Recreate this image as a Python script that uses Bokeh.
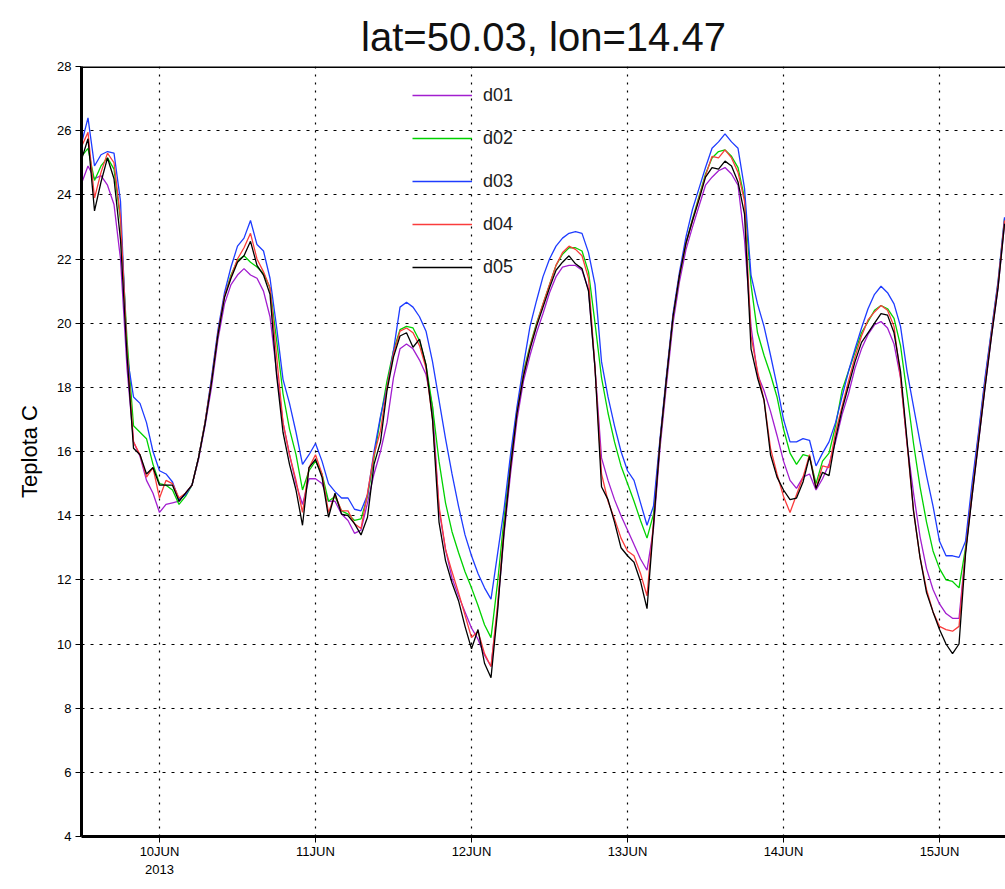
from bokeh.plotting import figure
from bokeh.models import FixedTicker, Legend, LegendItem, Span, Range1d
from bokeh.embed import file_html
from bokeh.resources import INLINE

# hours since 9 JUN 2013 12:00
hours = list(range(143))

d01 = [24.35, 24.9, 24.5, 24.6, 24.3, 23.7, 22.0, 18.6, 16.3, 15.85, 15.1, 14.7,
       14.1, 14.35, 14.4, 14.45, 14.7, 14.95, 15.75, 16.8, 18.0, 19.5, 20.6, 21.2,
       21.5, 21.7, 21.5, 21.4, 21.0, 20.2, 18.5, 16.9, 15.9, 15.0, 14.35, 15.15,
       15.15, 15.0, 14.45, 14.45, 14.05, 13.85, 13.45, 13.55, 14.4, 15.3, 16.0, 16.9,
       18.3, 19.2, 19.35, 19.2, 18.85, 18.4, 17.4, 14.2, 12.95, 12.05, 11.5, 11.0,
       10.5, 10.15, 9.65, 9.3, 11.1, 13.4, 15.3, 17.0, 18.2, 19.0, 19.7, 20.3,
       20.95, 21.45, 21.75, 21.8, 21.8, 21.65, 21.05, 18.6, 15.8, 15.1, 14.5, 14.0,
       13.55, 13.1, 12.65, 12.3, 13.6, 16.1, 18.1, 20.0, 21.3, 22.3, 23.0, 23.65,
       24.3, 24.55, 24.75, 24.85, 24.65, 24.3, 22.6, 19.9, 18.4, 17.9, 17.25, 16.5,
       15.7, 15.1, 14.85, 15.2, 15.3, 14.8, 15.15, 15.6, 16.3, 17.15, 17.8, 18.6,
       19.2, 19.65, 19.95, 20.05, 19.85, 19.35, 18.3, 16.25, 14.7, 13.35, 12.35, 11.7,
       11.25, 10.95, 10.8, 10.8, 12.9, 14.6, 16.3, 18.0, 19.6, 21.1, 23.1]

d02 = [25.2, 25.45, 24.45, 24.9, 25.15, 24.8, 23.2, 19.5, 16.8, 16.6, 16.4, 15.6,
       15.0, 14.95, 14.8, 14.35, 14.6, 14.95, 15.8, 16.9, 18.2, 19.7, 20.85, 21.5,
       21.95, 22.1, 21.9, 21.75, 21.55, 21.1, 19.5, 17.8, 16.7, 15.9, 14.8, 15.4,
       15.7, 15.3, 14.45, 14.6, 14.15, 14.05, 13.85, 13.9, 14.6, 15.8, 17.05, 18.2,
       19.15, 19.8, 19.9, 19.85, 19.45, 18.7, 17.4, 15.7, 14.4, 13.5, 12.85, 12.25,
       11.75, 11.2, 10.6, 10.2, 11.9, 13.9, 15.7, 17.3, 18.5, 19.3, 20.0, 20.6,
       21.2, 21.8, 22.15, 22.35, 22.35, 22.25, 21.6, 20.0, 18.3, 17.2, 16.3, 15.55,
       15.0, 14.45, 13.85, 13.3, 14.05, 16.3, 18.3, 20.2, 21.5, 22.5, 23.25, 23.95,
       24.65, 25.15, 25.35, 25.4, 25.2, 24.85, 23.9, 21.2, 19.7, 19.0, 18.4, 17.7,
       16.7, 15.95, 15.6, 15.9, 15.85, 15.0, 15.7, 15.95, 16.8, 17.9, 18.5, 19.1,
       19.7, 20.05, 20.4, 20.55, 20.45, 20.15, 19.3, 17.8, 16.25, 14.9, 13.8, 12.9,
       12.35, 12.0, 11.95, 11.75, 13.0, 14.8, 16.5, 18.2, 19.75, 21.25, 23.25]

d03 = [25.6, 26.4, 24.9, 25.25, 25.35, 25.3, 23.8, 19.0, 17.7, 17.5, 16.9, 16.0,
       15.4, 15.3, 15.05, 14.5, 14.65, 14.95, 15.8, 16.9, 18.3, 19.8, 20.95, 21.75,
       22.4, 22.65, 23.2, 22.45, 22.25, 21.4, 19.9, 18.25, 17.5, 16.6, 15.6, 15.9,
       16.25, 15.7, 15.0, 14.75, 14.55, 14.55, 14.2, 14.15, 14.65, 16.0, 17.1, 18.0,
       19.15, 20.5, 20.65, 20.5, 20.2, 19.75, 18.8, 17.6, 16.4, 15.3, 14.3, 13.4,
       12.75, 12.2, 11.75, 11.4, 12.8, 14.2, 15.9, 17.4, 18.7, 19.9, 20.7, 21.45,
       22.0, 22.4, 22.65, 22.8, 22.85, 22.8, 22.2, 21.2, 18.8, 17.7, 16.8, 16.0,
       15.4, 15.1, 14.4, 13.7, 14.3, 16.4, 18.4, 20.3, 21.6, 22.7, 23.55, 24.2,
       24.85, 25.45, 25.65, 25.9, 25.65, 25.45, 24.2, 21.5, 20.6, 19.9, 19.0, 18.05,
       17.0, 16.3, 16.3, 16.4, 16.35, 15.55, 15.95, 16.3, 16.9, 17.7, 18.5, 19.2,
       19.85, 20.45, 20.9, 21.15, 20.95, 20.6, 19.9, 18.5, 17.4, 16.3, 15.25, 14.3,
       13.2, 12.75, 12.75, 12.7, 13.2, 15.0, 16.6, 18.3, 19.8, 21.3, 23.3]

d04 = [25.5, 25.95, 23.9, 24.7, 25.3, 25.0, 23.3, 19.2, 16.3, 15.9, 15.2, 15.5,
       14.55, 15.1, 15.0, 14.55, 14.7, 14.95, 15.8, 16.9, 18.2, 19.7, 20.85, 21.45,
       22.0, 22.35, 22.8, 22.0, 21.6, 21.1, 19.0, 16.9, 15.9, 15.1, 14.1, 15.5,
       15.9, 15.3, 14.1, 14.65, 14.15, 14.15, 13.75, 13.6, 14.7, 15.9, 16.65, 18.0,
       19.05, 19.75, 19.85, 19.7, 19.3, 18.6, 17.0, 14.3, 12.95, 12.25, 11.6, 10.9,
       10.2, 10.4, 9.7, 9.3, 11.2, 13.6, 15.5, 17.2, 18.4, 19.25, 19.95, 20.6,
       21.2, 21.8, 22.2, 22.4, 22.3, 22.1, 21.4, 18.6, 15.3, 14.45, 13.9, 13.3,
       12.9, 12.75, 12.2, 11.5, 13.8, 16.3, 18.3, 20.2, 21.5, 22.5, 23.2, 23.9,
       24.6, 25.2, 25.15, 25.4, 25.15, 24.7, 23.8, 19.6, 18.5, 17.6, 16.1, 15.3,
       14.6, 14.1, 14.65, 15.2, 15.9, 14.85, 15.55, 15.5, 16.6, 17.4, 18.2, 18.95,
       19.6, 20.1, 20.35, 20.55, 20.4, 19.9, 18.3, 16.25, 14.15, 12.7, 11.7, 11.0,
       10.55, 10.45, 10.4, 10.55, 12.9, 14.7, 16.4, 18.1, 19.7, 21.2, 23.2]

d05 = [25.1, 25.75, 23.5, 24.4, 25.15, 24.5, 22.6, 19.0, 16.1, 15.9, 15.3, 15.5,
       14.95, 14.95, 14.95, 14.45, 14.7, 14.95, 15.8, 16.85, 18.15, 19.65, 20.8, 21.4,
       21.9, 22.1, 22.55, 21.8, 21.5, 20.9, 18.4, 16.6, 15.6, 14.8, 13.7, 15.5,
       15.75, 15.2, 13.95, 14.7, 14.05, 14.0, 13.75, 13.4, 13.95, 15.6, 16.3, 17.9,
       18.95, 19.6, 19.7, 19.25, 19.5, 18.7, 17.0, 13.8, 12.6, 11.9, 11.35, 10.55,
       9.85, 10.45, 9.4, 8.95, 11.0, 13.5, 15.5, 17.2, 18.35, 19.2, 19.9, 20.5,
       21.1, 21.65, 21.9, 22.1, 21.85, 21.7, 21.0, 18.6, 14.9, 14.5, 13.8, 13.0,
       12.75, 12.55, 11.95, 11.1, 13.7, 16.3, 18.3, 20.2, 21.5, 22.5, 23.2, 23.85,
       24.55, 24.85, 24.8, 25.05, 24.9, 24.4, 23.4, 19.2, 18.3, 17.6, 15.9, 15.2,
       14.8, 14.5, 14.55, 15.05, 15.85, 14.85, 15.35, 15.25, 16.4, 17.3, 18.05, 18.8,
       19.4, 19.7, 20.0, 20.3, 20.25, 19.7, 18.5, 16.35, 14.15, 12.7, 11.6, 11.0,
       10.45, 10.0, 9.7, 10.0, 12.8, 14.6, 16.3, 18.0, 19.6, 21.1, 23.1]

series_names = ["d01", "d02", "d03", "d04", "d05"]
series_colors = ["#A21ECF", "#00D200", "#1E3CFF", "#FA3C3C", "#000000"]

day_ticks = [12, 36, 60, 84, 108, 132]
day_labels = ["10JUN\n2013", "11JUN", "12JUN", "13JUN", "14JUN", "15JUN"]
temp_ticks = list(range(4, 29, 2))

title_text = "lat=50.03, lon=14.47"
y_title = "Teplota C"

FONT = "Liberation Sans"

p = figure(width=1005, height=889, x_range=Range1d(0, 142.15), y_range=Range1d(4, 28),
           output_backend="svg", toolbar_location=None,
           min_border_left=81, min_border_right=0, min_border_top=66, min_border_bottom=53)
p.outline_line_color = None
p.background_fill_color = "white"
p.border_fill_color = "white"

p.title.text = title_text
p.title.align = "center"
p.title.text_font = FONT
p.title.text_font_size = "40px"
p.title.text_font_style = "normal"
p.title.text_color = "#111111"
p.title.standoff = 15

# axes
p.xaxis.ticker = FixedTicker(ticks=day_ticks)
p.xaxis.major_label_overrides = {t: l for t, l in zip(day_ticks, day_labels)}
p.yaxis.ticker = FixedTicker(ticks=temp_ticks)
for ax in (p.xaxis[0], p.yaxis[0]):
    ax.axis_line_width = 3
    ax.axis_line_color = "black"
    ax.major_tick_in = 0
    ax.major_tick_out = 6
    ax.major_tick_line_color = "black"
    ax.minor_tick_line_color = None
    ax.major_label_text_font = FONT
    ax.major_label_text_font_size = "13px"
    ax.major_label_text_color = "black"
p.xaxis.major_label_standoff = 1
p.yaxis.major_label_standoff = 4
p.yaxis.axis_label = y_title
p.yaxis.axis_label_text_font = FONT
p.yaxis.axis_label_text_font_size = "22px"
p.yaxis.axis_label_text_font_style = "normal"
p.yaxis.axis_label_text_color = "black"
p.yaxis.axis_label_standoff = 12

# grids
p.xgrid.ticker = FixedTicker(ticks=day_ticks)
p.ygrid.ticker = FixedTicker(ticks=temp_ticks[1:-1])
p.xgrid.grid_line_color = "black"
p.xgrid.grid_line_dash = "2 6"
p.xgrid.grid_line_width = 1.2
p.ygrid.grid_line_color = "black"
p.ygrid.grid_line_dash = "3 6"
p.ygrid.grid_line_width = 1.2

# top frame border
p.add_layout(Span(location=28, dimension="width", line_color="black", line_width=3))

renderers = []
for name, vals, col in zip(series_names, [d01, d02, d03, d04, d05], series_colors):
    r = p.line(hours, vals, line_color=col, line_width=1.3)
    renderers.append((name, r))

# legend: location is the bottom-left corner, measured from the frame's bottom-left
legend = Legend(items=[LegendItem(label=n, renderers=[r]) for n, r in renderers],
                location=(331, 558), orientation="vertical",
                glyph_width=60, glyph_height=22, label_height=22, spacing=21,
                padding=0, margin=0, label_standoff=11,
                border_line_alpha=0, background_fill_alpha=0,
                label_text_font=FONT, label_text_font_size="18px", label_text_color="#222222")
p.add_layout(legend)

open("out.html", "w").write(file_html(p, INLINE))
